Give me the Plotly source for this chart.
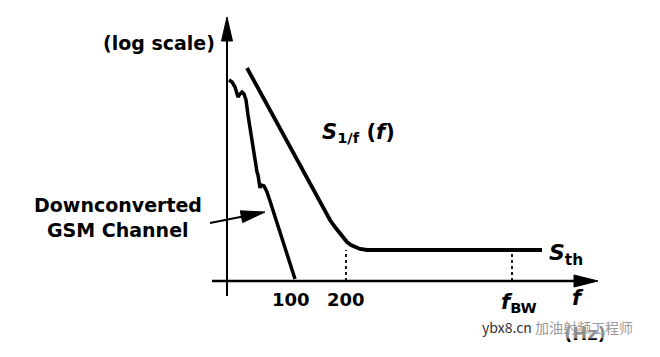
import plotly.graph_objects as go

# ---- data (schematic units: x = frequency position, y = log PSD) ----
gsm_f   = [2, 5, 8, 10, 11, 13, 15, 17, 19, 21, 24, 27, 30, 31, 33, 34, 37, 40, 43, 68]
gsm_psd = [201, 199, 194, 188, 184, 187, 189, 187, 181, 166, 146, 126, 109, 106, 93, 96, 95, 89, 80, 2]

flicker_f   = [20, 98, 103, 108, 113, 117, 120, 124, 128, 133, 140, 150, 315]
flicker_psd = [213, 70, 61, 54, 48, 43, 39, 36, 34, 32, 31, 31, 31]

tick_pos    = [64, 119]
tick_labels = ["100", "200"]
f_bw_pos    = 285
f_200_pos   = 119
s_th_level  = 31

FONT = "DejaVu Sans, Arial, sans-serif"
fig = go.Figure()

def line(xs, ys, width=3.5, dash=None):
    fig.add_trace(go.Scatter(x=xs, y=ys, mode="lines",
                             line=dict(color="black", width=width, dash=dash),
                             hoverinfo="skip", showlegend=False))

def head(tip, frm, length, width):
    dx, dy = tip[0] - frm[0], tip[1] - frm[1]
    n = (dx * dx + dy * dy) ** 0.5
    ux, uy = dx / n, dy / n
    bx, by = tip[0] - ux * length, tip[1] - uy * length
    px, py = -uy * width / 2, ux * width / 2
    fig.add_trace(go.Scatter(x=[tip[0], bx + px, bx - px, tip[0]],
                             y=[tip[1], by + py, by - py, tip[1]],
                             mode="lines", fill="toself", fillcolor="black",
                             line=dict(color="black", width=1),
                             hoverinfo="skip", showlegend=False))

# axes
line([0, 0], [-15, 245], width=2)
head((0, 264), (0, 0), 24, 11)
line([-15, 350], [0, 0], width=2.5)
head((371, 0), (0, 0), 24, 12)

# curves
line(gsm_f, gsm_psd, width=3.5)
line(flicker_f, flicker_psd, width=3.8)

# dashed markers
line([f_200_pos, f_200_pos], [0, s_th_level], width=1.8, dash="3px,3px")
line([f_bw_pos, f_bw_pos], [0, s_th_level], width=1.8, dash="3px,3px")

# arrow to GSM channel
line([-17, 26], [58, 66.5], width=2)
head((38, 69), (-17, 58), 24, 12)

def txt(x, y, s, size=18, xanchor="center", color="black", family=FONT, weight="bold"):
    fig.add_annotation(x=x, y=y, text=s, showarrow=False, xanchor=xanchor,
                       yanchor="middle",
                       font=dict(family=family, size=size, color=color, weight=weight))

txt(-10, 238, "(log scale)", size=19, xanchor="right")
txt(-109, 76, "Downconverted", size=19)
txt(-109, 51, "GSM Channel", size=19)
txt(93, 148, "<i>S</i><sub>1/f</sub> (<i>f</i>)", size=21, xanchor="left")
txt(320, 27, "<i>S</i><sub>th</sub>", size=22, xanchor="left")
for p, lab in zip(tick_pos, tick_labels):
    txt(p, -18, lab, size=18)
txt(272, -22, "<i>f</i><sub>BW</sub>", size=21, xanchor="left")
txt(351, -17, "<i>f</i>", size=21, xanchor="center")
txt(358, -52, "(Hz)", size=18)
fig.add_annotation(x=253, y=-46, showarrow=False, xanchor="left", yanchor="middle",
                   text="<span style='color:#333'>ybx8.cn</span> 加油射频工程师",
                   font=dict(family="Noto Sans CJK SC", size=14, color="#9a9a9a"),
                   bgcolor="rgba(255,255,255,0.55)")

fig.update_xaxes(visible=False, range=[-227, 433], fixedrange=True)
fig.update_yaxes(visible=False, range=[-76, 281], fixedrange=True)
fig.update_layout(width=660, height=357, margin=dict(l=0, r=0, t=0, b=0),
                  plot_bgcolor="white", paper_bgcolor="white")
fig.write_html("out.html", config={"displayModeBar": False},
               post_script="document.body.style.margin='0';document.body.style.overflow='hidden';")
